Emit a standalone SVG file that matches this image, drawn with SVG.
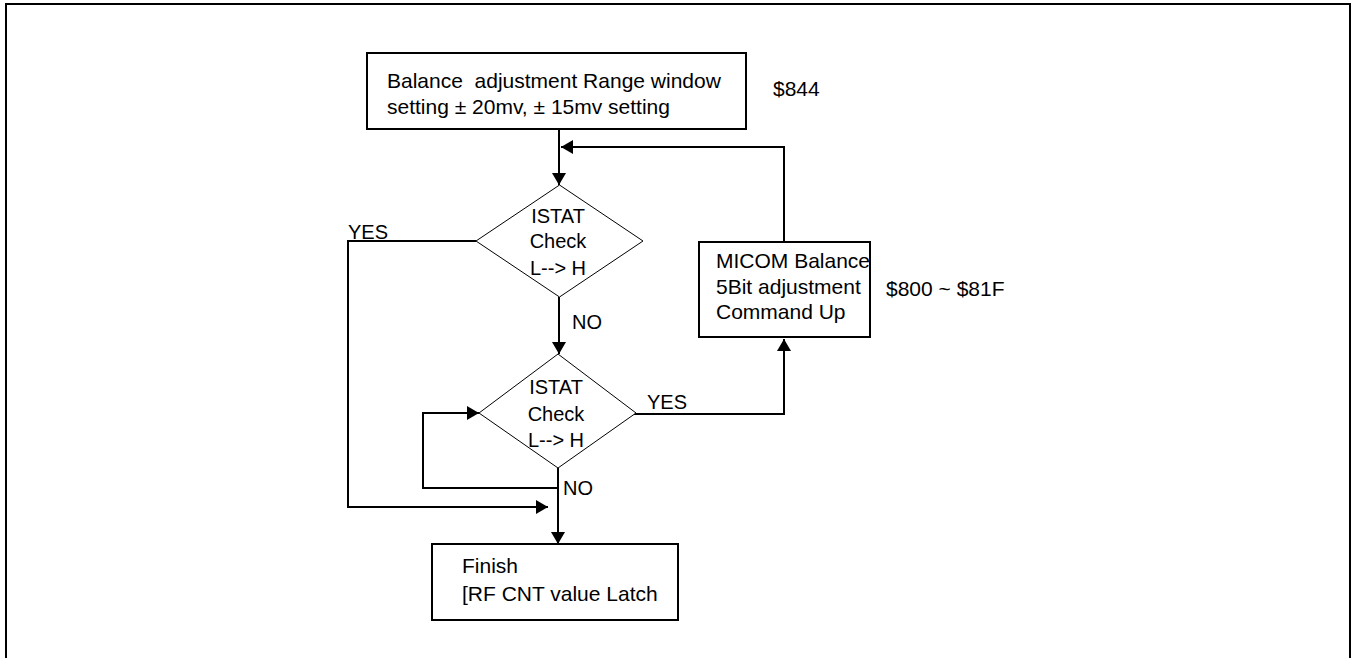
<svg xmlns="http://www.w3.org/2000/svg" width="1353" height="658" viewBox="0 0 1353 658">
<style>
  text { font-family: "Liberation Sans", Arial, sans-serif; font-size: 20px; fill: #000; }
  .t21 { font-size: 21px; }
  .box { fill: #fff; stroke: #000; stroke-width: 2; }
  .dia { fill: #fff; stroke: #000; stroke-width: 1; }
  .ln { fill: none; stroke: #000; stroke-width: 2; }
</style>
<defs>
  <marker id="ah" viewBox="0 0 12 14" refX="12" refY="7" markerWidth="12" markerHeight="14" markerUnits="userSpaceOnUse" orient="auto">
    <path d="M0,0 L12,7 L0,14 Z" fill="#000"/>
  </marker>
</defs>
<rect width="1353" height="658" fill="#fff"/>
<path class="ln" d="M6,658 V4 H1350 V658"/>

<g id="connectors">
  <path class="ln" d="M559,129 V185" marker-end="url(#ah)"/>
  <path class="ln" d="M784,243 V147 H561" marker-end="url(#ah)"/>
  <path class="ln" d="M559,297 V354" marker-end="url(#ah)"/>
  <path class="ln" d="M476,241 H348 V507 H548" marker-end="url(#ah)"/>
  <path class="ln" d="M634,414 H784 V339" marker-end="url(#ah)"/>
  <path class="ln" d="M558,488 H423 V413 H479" marker-end="url(#ah)"/>
  <path class="ln" d="M558,468 V544" marker-end="url(#ah)"/>
</g>

<g id="start">
  <rect class="box" x="367" y="53" width="379" height="76"/>
  <text class="t21" x="387" y="88" xml:space="preserve">Balance  adjustment Range window</text>
  <text class="t21" x="387" y="114">setting ± 20mv, ± 15mv setting</text>
</g>
<text class="t21" x="773" y="96">$844</text>

<g id="check1">
  <polygon class="dia" points="559.5,185 643,241 559.5,297 476,241"/>
  <text x="558" y="223" text-anchor="middle">ISTAT</text>
  <text x="558" y="248" text-anchor="middle">Check</text>
  <text x="558" y="275" text-anchor="middle">L--&gt; H</text>
</g>

<g id="check2">
  <polygon class="dia" points="558,354 636,413 558,468 479,413"/>
  <text x="556" y="394" text-anchor="middle">ISTAT</text>
  <text x="556" y="421" text-anchor="middle">Check</text>
  <text x="556" y="447" text-anchor="middle">L--&gt; H</text>
</g>

<g id="micom">
  <rect class="box" x="699" y="242" width="171" height="95"/>
  <text class="t21" x="716" y="268">MICOM Balance</text>
  <text class="t21" x="716" y="294">5Bit adjustment</text>
  <text class="t21" x="716" y="319">Command Up</text>
</g>
<text class="t21" x="886" y="296">$800 ~ $81F</text>

<g id="finish">
  <rect class="box" x="432" y="544" width="246" height="76"/>
  <text class="t21" x="462" y="573">Finish</text>
  <text class="t21" x="462" y="601">[RF CNT value Latch</text>
</g>

<text x="348" y="239">YES</text>
<text x="572" y="329">NO</text>
<text x="647" y="409">YES</text>
<text x="563" y="495">NO</text>
</svg>
